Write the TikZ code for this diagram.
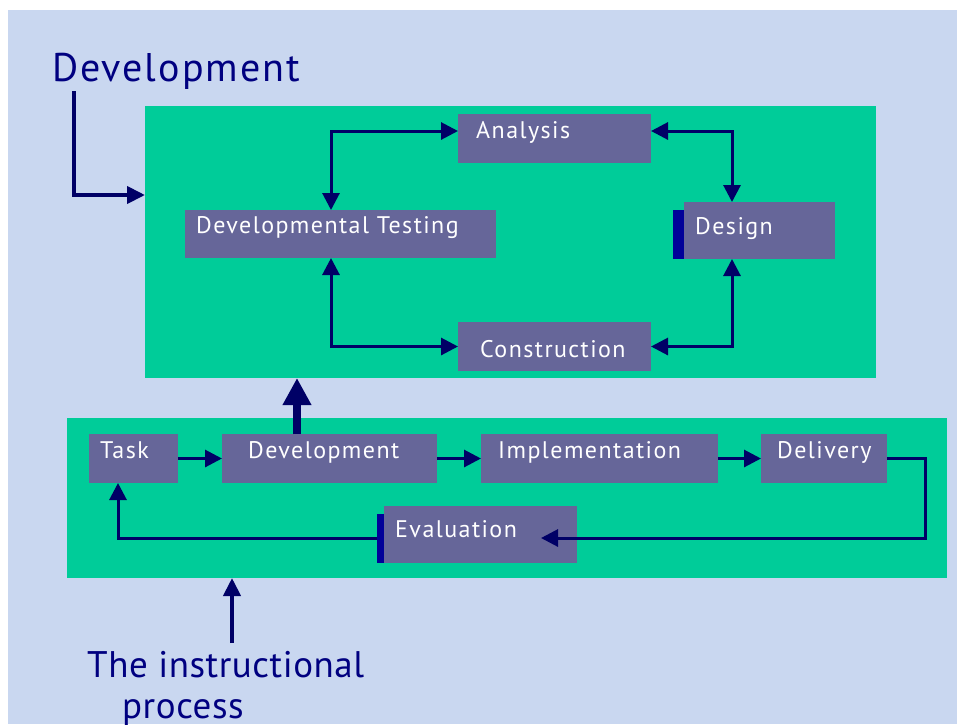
\documentclass[tikz,border=0pt]{standalone}
\usepackage{fontspec}
\setmainfont{PT Sans}
\newfontfamily\boxfont[LetterSpace=6]{PT Sans}
\newfontfamily\titlefont[LetterSpace=5]{PT Sans}
\newfontfamily\procfont[LetterSpace=1.5]{PT Sans}
\usetikzlibrary{arrows.meta}
\definecolor{bgblue}{HTML}{C9D7F0}
\definecolor{panelgreen}{HTML}{00CC99}
\definecolor{boxgray}{HTML}{666699}
\definecolor{arrownavy}{HTML}{000066}
\definecolor{barblue}{HTML}{000099}
\definecolor{titlenavy}{HTML}{000080}
\begin{document}
\begin{tikzpicture}[x=1pt,y=-1pt,
  >={Triangle[length=17pt,width=17pt]},
  panel/.style={fill=panelgreen, draw=none, inner sep=0pt, outer sep=0pt, anchor=north west},
  gbox/.style={fill=boxgray, draw=none, inner sep=0pt, outer sep=0pt, anchor=north west},
  gbar/.style={fill=barblue, draw=none, inner sep=0pt, outer sep=0pt, anchor=north west},
  btext/.style={anchor=base west, inner sep=0pt, text=white, font=\boxfont\fontsize{24}{28}\selectfont},
  ttext/.style={anchor=base west, inner sep=0pt, text=titlenavy, font=\titlefont\fontsize{40}{46}\selectfont},
  ptext/.style={anchor=base west, inner sep=0pt, text=titlenavy, font=\procfont\fontsize{37}{42}\selectfont},
  conn/.style={draw=arrownavy, line width=3pt, line join=miter},
]
\useasboundingbox (0,0) rectangle (957,724);
\fill[white] (0,0) rectangle (957,724);
\fill[bgblue] (8,10) rectangle (957,724);

% panels
\node[panel, minimum width=731pt, minimum height=272pt] (topgreen) at (145,106) {};
\node[panel, minimum width=880pt, minimum height=160pt] (bottomgreen) at (67,418) {};

% top boxes
\node[gbox, minimum width=193pt, minimum height=49pt] (analysis) at (458,114) {};
\node[gbox, minimum width=151pt, minimum height=57pt] (design) at (684,202) {};
\node[gbar, minimum width=11pt, minimum height=49pt] (designbar) at (673,210) {};
\node[gbox, minimum width=311pt, minimum height=48pt] (devtest) at (185,210) {};
\node[gbox, minimum width=193pt, minimum height=49pt] (construction) at (458,322) {};

\node[btext] (analysis-t) at (476,138) {Analysis};
\node[btext] (design-t) at (695,234) {Design};
\node[btext] (devtest-t) at (196,233) {Developmental Testing};
\node[btext] (construction-t) at (480,357) {Construction};

% bottom boxes
\node[gbox, minimum width=89pt, minimum height=49pt] (task) at (89,434) {};
\node[gbox, minimum width=215pt, minimum height=49pt] (devb) at (222,434) {};
\node[gbox, minimum width=237pt, minimum height=49pt] (impl) at (481,434) {};
\node[gbox, minimum width=126pt, minimum height=49pt] (deliv) at (761,434) {};
\node[gbox, minimum width=193pt, minimum height=57pt] (evalb) at (384,506) {};
\node[gbar, minimum width=7pt, minimum height=49pt] (evalbar) at (377,514) {};

\node[btext] (task-t) at (100,458) {Task};
\node[btext] (devb-t) at (248,458) {Development};
\node[btext] (impl-t) at (498,458) {Implementation};
\node[btext] (deliv-t) at (777,458) {Delivery};
\node[btext] (evalb-t) at (395,537) {Evaluation};

% titles
\node[ttext] (title) at (52,81) {Development};
\node[ptext] (proc1) at (87,677) {The instructional};
\node[ptext] (proc2) at (122,718) {process};

% top cycle connectors
\draw[conn, <->] ([yshift=7.5pt]analysis.west) -| ([xshift=-9.5pt]devtest.north);
\draw[conn, <->] ([yshift=7.5pt]analysis.east) -| ([xshift=-27.5pt]design.north);
\draw[conn, <->] (construction.east) -| ([xshift=-27.5pt]design.south);
\draw[conn, <->] (construction.west) -| ([xshift=-9.5pt]devtest.south);

% bottom process connectors
\draw[conn, ->] (task.east) -- (devb.west);
\draw[conn, ->] (devb.east) -- (impl.west);
\draw[conn, ->] (impl.east) -- (deliv.west);
\coordinate (evaltip) at (541,538);
\draw[conn, ->] (deliv.east) -- ++(38,0) |- (evaltip);
\draw[conn, ->] (evalbar.west) -| ([xshift=-15.5pt]task.south);

% between panels
\draw[draw=arrownavy, line width=8.7pt, -{Triangle[length=27pt,width=27pt]}]
  ([xshift=-32.5pt]devb.north) -- ([xshift=-32.5pt]devb.north |- topgreen.south);

% title arrows
\coordinate (tstart) at (74,91);
\draw[draw=arrownavy, line width=4pt, line join=miter, -{Triangle[length=18pt,width=17pt]}]
  (tstart) |- ([yshift=47pt]topgreen.west);
\coordinate (pstart) at (232,643);
\draw[draw=arrownavy, line width=4pt, -{Triangle[length=18pt,width=17pt]}]
  (pstart) -- (pstart |- bottomgreen.south);
\end{tikzpicture}
\end{document}
